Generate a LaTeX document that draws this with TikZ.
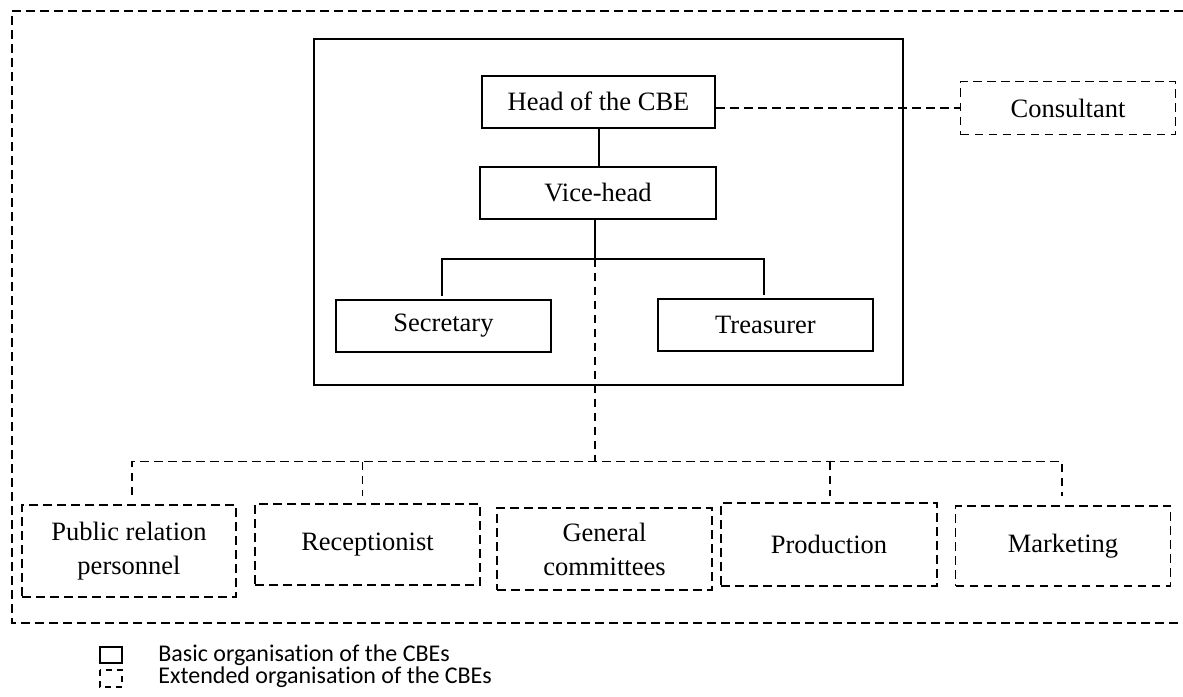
\documentclass[tikz,border=0pt]{standalone}
\usepackage{fontspec}
\setmainfont{Liberation Serif}
\newfontfamily\leyendafont[Ligatures=NoCommon]{Carlito}
\usetikzlibrary{calc}
\tikzset{
  x=0.5pt, y=-0.5pt,
  linea/.style={line width=1pt},
  punt/.style={line width=0.8pt, dash pattern=on 4.3pt off 2.7pt},
  caja/.style={draw, linea, minimum width=#1, minimum height=26pt, inner sep=2pt,
    font=\fontsize{13.25}{17}\selectfont, align=center},
  cajap/.style={draw, punt, minimum width=#1, inner sep=2pt,
    font=\fontsize{13.25}{17}\selectfont, align=center},
  leyenda/.style={anchor=west, inner sep=0pt, font=\leyendafont\fontsize{12}{14}\selectfont},
}

\begin{document}
\begin{tikzpicture}
  \useasboundingbox (0,0) rectangle (1183,696);
  \draw[punt] (1183,11) -- (12,11) -- (12,623) -- (1183,623);
  \draw[linea] (314,39) rectangle (903,385);

  \node[caja=116.5pt] (jefe) at (598.5,101.5) {Head of the CBE};
  \node[caja=118pt] (vice) at (598,192.5) {Vice-head};
  \node[caja=107.5pt] (secr) at (443.5,326) {Secretary};
  \node[caja=107.5pt] (tes) at (765.5,325) {Treasurer};
  \node[cajap=107.5pt, minimum height=26.5pt] (cons) at (1068,108) {Consultant};

  \node[cajap=107pt, minimum height=46pt] (rp) at (129,551) {Public relation\\personnel};
  \node[cajap=112.5pt, minimum height=40.5pt] (recep) at (367.5,544.5) {Receptionist};
  \node[cajap=107.5pt, minimum height=41pt] (gen) at (604.5,549) {General\\committees};
  \node[cajap=108pt, minimum height=41.5pt] (prod) at (829,544.5) {Production};
  \node[cajap=107.5pt, minimum height=40pt] (merc) at (1063,546) {Marketing};

  \coordinate (nudo) at ($(vice.south)+(-3,39)$);
  \coordinate (bus) at ($(nudo)+(0,203)$);
  \coordinate (recepst) at ($(recep.north)+(-5,-7)$);
  \coordinate (prodst) at ($(prod.north)+(1,-6)$);
  \draw[linea] (jefe.south) -- (jefe.south |- vice.north);
  \draw[linea] (vice.south -| nudo) -- (nudo);
  \draw[linea] ($(secr.north)+(-2,-3)$) |- (nudo) -| ($(tes.north)+(-2,-3)$);
  \draw[punt] (jefe.east |- cons.west) -- (cons.west);
  \draw[punt] (nudo) -- (bus);
  \draw[punt] ($(rp.north)+(3,-9)$) |- (bus) -| ($(merc.north)+(-1,-9)$);
  \draw[punt] (recepst |- bus) -- (recepst);
  \draw[punt] (prodst |- bus) -- (prodst);

  \draw[linea] (100,647) rectangle (122,663);
  \draw[punt, dash pattern=on 3pt off 2.5pt] (100,670) rectangle (122,687);
  \node[leyenda] (bas) at (158,655) {Basic organisation of the CBEs};
  \node[leyenda] (ext) at (158,677) {Extended organisation of the CBEs};
\end{tikzpicture}
\end{document}
